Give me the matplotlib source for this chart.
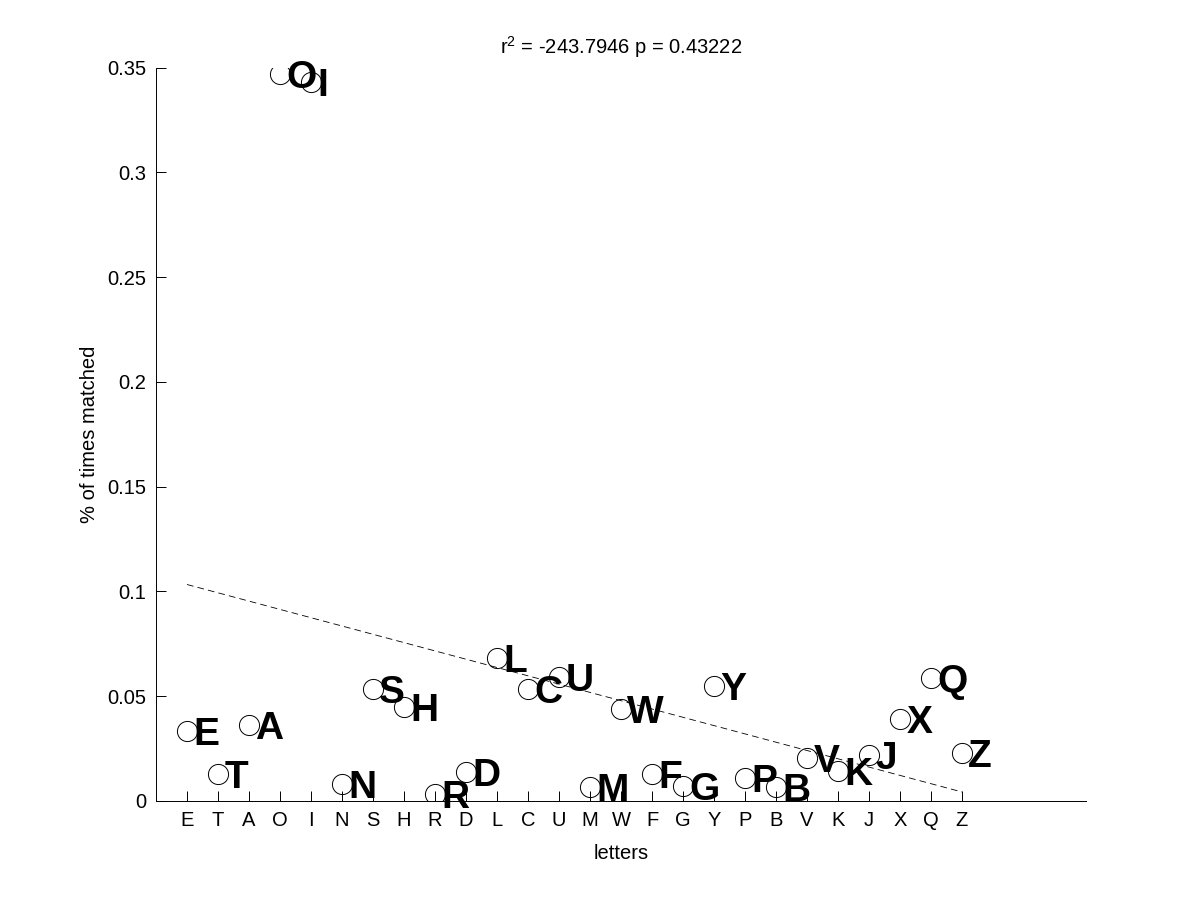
import matplotlib
matplotlib.use("Agg")
import matplotlib.pyplot as plt
import numpy as np

plt.rcParams['font.family'] = ['Liberation Sans', 'DejaVu Sans']
plt.rcParams['mathtext.fontset'] = 'custom'
plt.rcParams['mathtext.rm'] = 'Liberation Sans'
plt.rcParams['mathtext.it'] = 'Liberation Sans'

letters = ['E', 'T', 'A', 'O', 'I', 'N', 'S', 'H', 'R', 'D', 'L', 'C', 'U',
           'M', 'W', 'F', 'G', 'Y', 'P', 'B', 'V', 'K', 'J', 'X', 'Q', 'Z']
matched = [0.0335, 0.0129, 0.0363, 0.347, 0.343, 0.0081, 0.0536, 0.0450,
           0.0033, 0.0139, 0.0684, 0.0536, 0.0593, 0.0067, 0.0440, 0.0129,
           0.0072, 0.0550, 0.0110, 0.0067, 0.0206, 0.0143, 0.0220, 0.0392,
           0.0588, 0.0230]
fit_ends = [0.1033, 0.0043]
title_text = r'r$^{2}$ = -243.7946 p = 0.43222'

x = np.arange(1, len(letters) + 1)

fig = plt.figure(figsize=(12, 9), dpi=100)
ax = fig.add_axes([0.13, 0.11, 0.775, 0.815])

ax.plot(x, matched, linestyle='none', marker='o', markersize=14.5,
        markerfacecolor='none', markeredgecolor='black', markeredgewidth=0.7,
        zorder=3)
ax.plot([x[0], x[-1]], fit_ends, linestyle=(0, (8, 5)), color='black',
        linewidth=0.6, zorder=2)

for xi, yi, lab in zip(x, matched, letters):
    ax.annotate(lab, (xi, yi), xytext=(4.5, 0), textcoords='offset points',
                fontsize=28, fontweight='bold', ha='left', va='center_baseline',
                zorder=4, annotation_clip=False)

ax.set_xlim(0, 30)
ax.set_ylim(0, 0.35)
ax.set_xticks(x)
ax.set_xticklabels(letters)
ax.set_yticks([0, 0.05, 0.1, 0.15, 0.2, 0.25, 0.3, 0.35])
ax.set_yticklabels(['0', '0.05', '0.1', '0.15', '0.2', '0.25', '0.3', '0.35'])
ax.tick_params(direction='in', length=7, width=0.7, labelsize=14.5, pad=7)
ax.spines['top'].set_visible(False)
ax.spines['right'].set_visible(False)
for s in ('left', 'bottom'):
    ax.spines[s].set_linewidth(0.7)

ax.set_xlabel('letters', fontsize=14.5, labelpad=10)
ax.set_ylabel('% of times matched', fontsize=14.5, labelpad=6)
ax.set_title(title_text, fontsize=14.5, pad=10)

fig.savefig('out.png', dpi=100)
